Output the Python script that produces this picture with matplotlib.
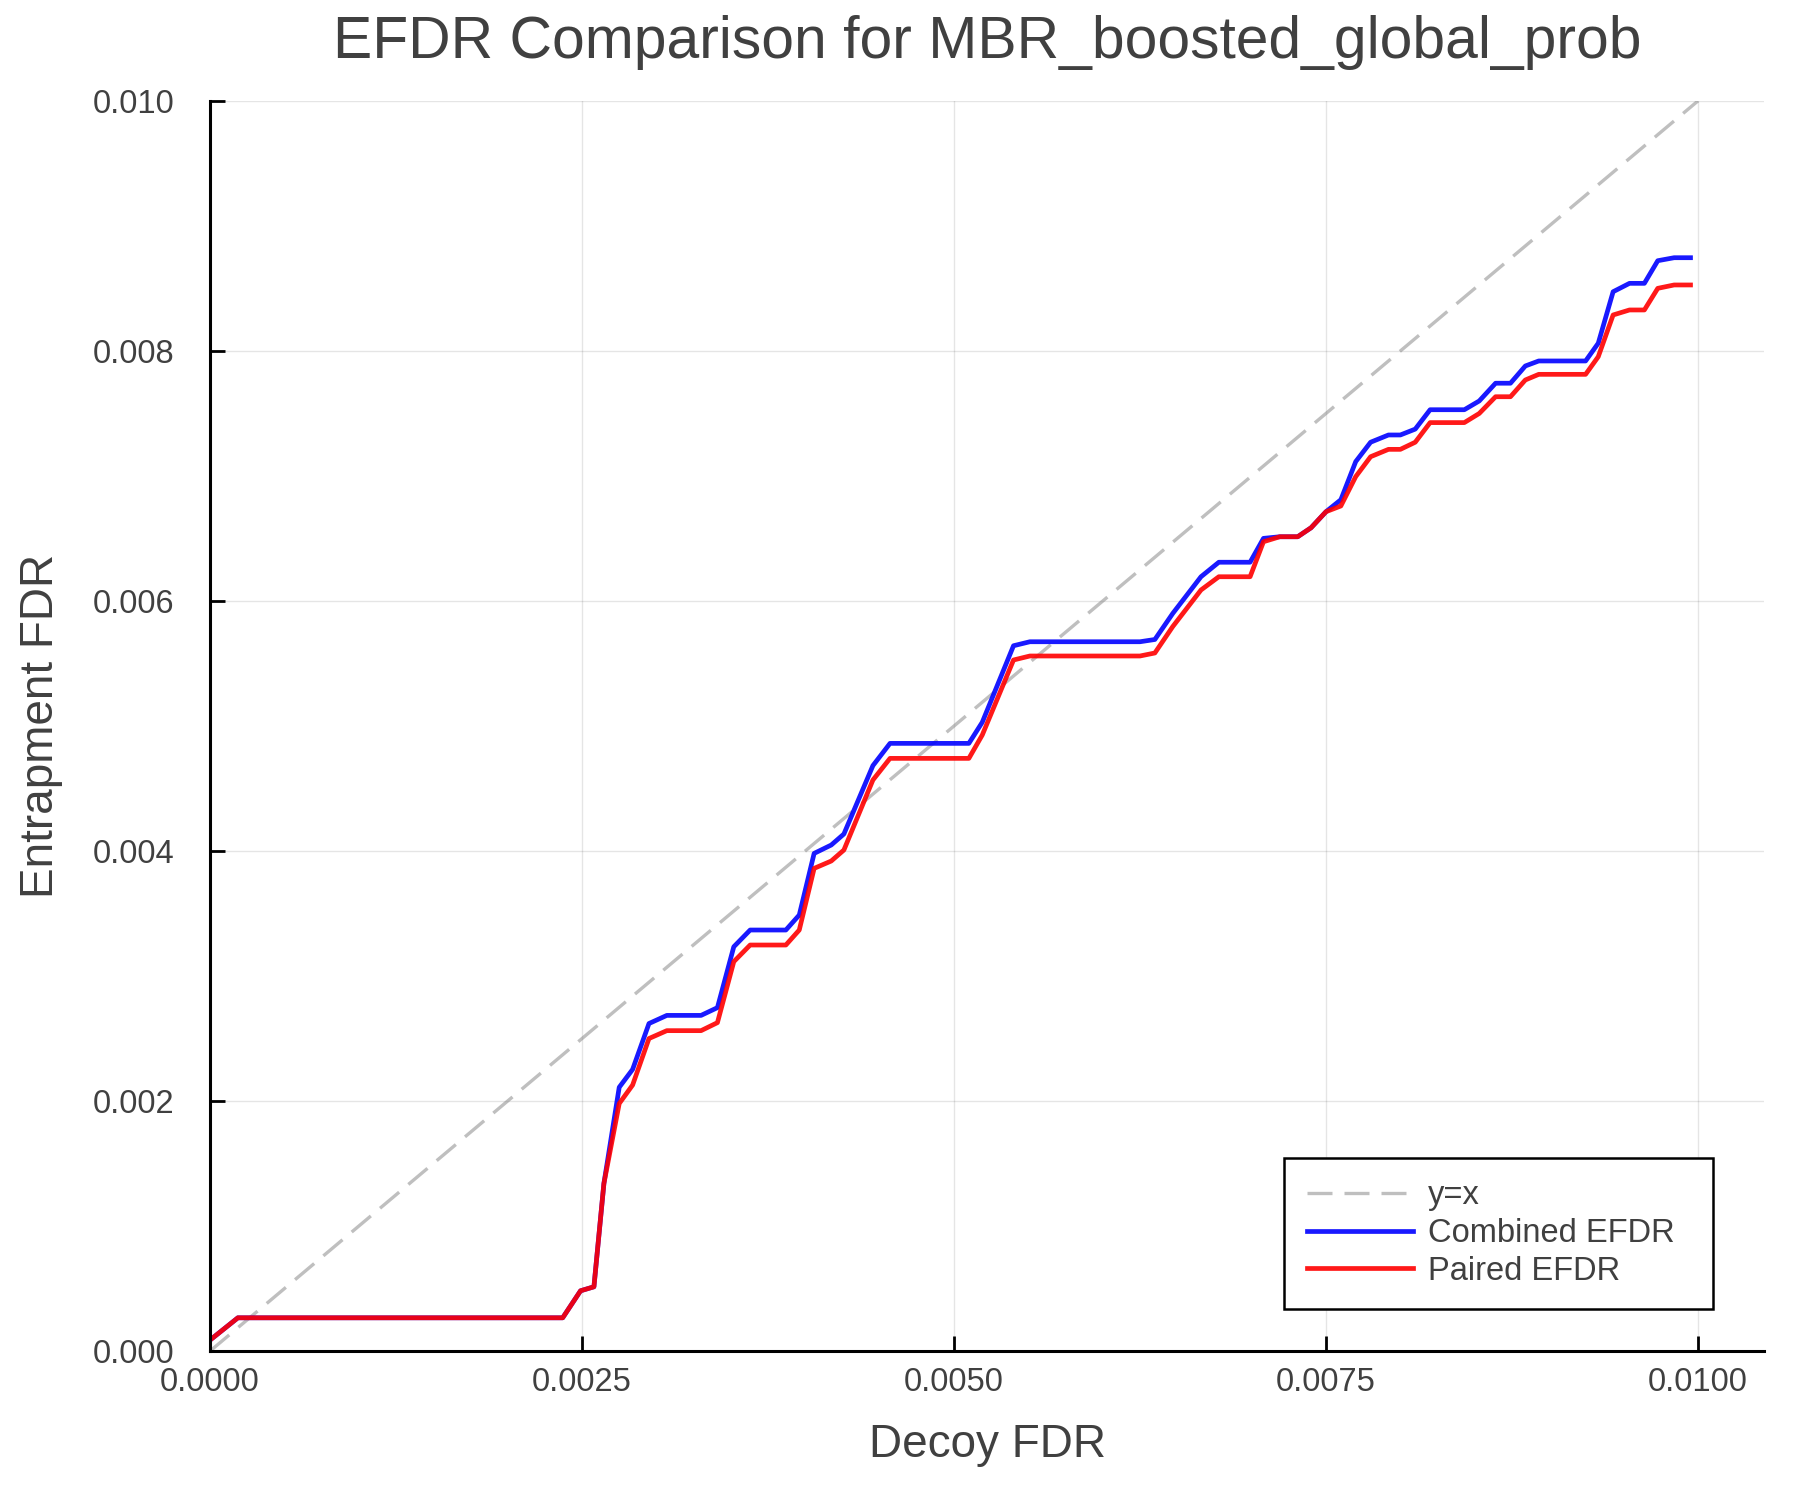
import matplotlib
matplotlib.use("Agg")
import matplotlib.pyplot as plt

# decoy FDR (x) and the two entrapment FDR curves
decoy_fdr = [0.0, 0.000187, 0.00237, 0.00249, 0.00258, 0.002647, 0.00275, 0.00284,
             0.00295, 0.00307, 0.0033, 0.00341, 0.00352, 0.00363, 0.00387, 0.00396,
             0.00406, 0.004175, 0.00426, 0.004455, 0.00457, 0.0051, 0.00519, 0.0054,
             0.00551, 0.00625, 0.00635, 0.00647, 0.00666, 0.00678, 0.00699, 0.00708,
             0.00719, 0.00731, 0.0074, 0.0075, 0.0076, 0.0077, 0.0078, 0.00792,
             0.008, 0.0081, 0.0082, 0.00843, 0.00853, 0.00864, 0.00874, 0.00884,
             0.00893, 0.009245, 0.00933, 0.00943, 0.00954, 0.00964, 0.00973, 0.00984,
             0.00995]
combined_efdr = [0.000088, 0.000266, 0.000266, 0.000482, 0.000514, 0.00134, 0.00211, 0.002253,
                 0.00262, 0.002685, 0.002685, 0.002747, 0.003234, 0.003368, 0.003368, 0.003488,
                 0.003981, 0.004048, 0.004136, 0.004683, 0.004861, 0.004861, 0.00503, 0.005642,
                 0.005674, 0.005674, 0.005692, 0.0059, 0.006194, 0.00631, 0.00631, 0.006501,
                 0.006514, 0.006514, 0.006586, 0.006714, 0.00681, 0.007115, 0.00727, 0.007328,
                 0.007328, 0.007375, 0.00753, 0.00753, 0.0076, 0.007742, 0.007742, 0.00788,
                 0.00792, 0.00792, 0.008062, 0.008474, 0.008541, 0.008541, 0.008722, 0.008746,
                 0.008746]
paired_efdr = [0.000088, 0.000266, 0.000266, 0.000482, 0.000514, 0.00134, 0.00198, 0.002128,
               0.0025, 0.002563, 0.002563, 0.002627, 0.003115, 0.003248, 0.003248, 0.003368,
               0.003861, 0.00392, 0.004008, 0.004568, 0.004741, 0.004741, 0.004928, 0.005528,
               0.00556, 0.00556, 0.005584, 0.005795, 0.006088, 0.006194, 0.006194, 0.006474,
               0.006514, 0.006514, 0.006586, 0.006714, 0.00676, 0.006995, 0.007154, 0.007213,
               0.007213, 0.00727, 0.007427, 0.007427, 0.0075, 0.007634, 0.007634, 0.007768,
               0.007813, 0.007813, 0.007954, 0.008288, 0.008328, 0.008328, 0.008501, 0.008528,
               0.008528]
diag = [0.0, 0.01]

x_ticks = [0.0, 0.0025, 0.005, 0.0075, 0.01]
x_tick_labels = ["0.0000", "0.0025", "0.0050", "0.0075", "0.0100"]
y_ticks = [0.0, 0.002, 0.004, 0.006, 0.008, 0.010]
y_tick_labels = ["0.000", "0.002", "0.004", "0.006", "0.008", "0.010"]

txt = "#404040"
plt.rcParams["font.family"] = ["Liberation Sans", "DejaVu Sans"]

fig = plt.figure(figsize=(18, 15), dpi=100)
ax = fig.add_axes([0.1167, 0.0993, 0.8633, 0.8334])

ax.plot(diag, diag, color="gray", alpha=0.5, lw=2.4, ls=(0, (7.5, 3.6)), label="y=x")
ax.plot(decoy_fdr, combined_efdr, color="blue", alpha=0.9, lw=3.4, label="Combined EFDR")
ax.plot(decoy_fdr, paired_efdr, color="red", alpha=0.9, lw=3.4, label="Paired EFDR")

ax.set_xlim(0, 0.010444)
ax.set_ylim(0, 0.010)
ax.set_xticks(x_ticks)
ax.set_xticklabels(x_tick_labels)
ax.set_yticks(y_ticks)
ax.set_yticklabels(y_tick_labels)
ax.tick_params(axis="both", direction="in", length=10.8, width=2.0, color="black",
               labelsize=23.5, labelcolor=txt)
ax.tick_params(axis="x", pad=11.5)
ax.tick_params(axis="y", pad=25.5)
ax.grid(True, color="black", alpha=0.1, lw=1.0)
ax.set_axisbelow(True)

for s in ["top", "right"]:
    ax.spines[s].set_visible(False)
for s in ["left", "bottom"]:
    ax.spines[s].set_linewidth(2.2)

ax.set_title("EFDR Comparison for MBR_boosted_global_prob", fontsize=42.3, color=txt, pad=31)
ax.set_xlabel("Decoy FDR", fontsize=33, color=txt, labelpad=18)
ax.set_ylabel("Entrapment FDR", fontsize=33, color=txt, labelpad=21.5)

leg = ax.legend(loc="lower left", bbox_to_anchor=(0.6911, 0.0336, 0.2761, 0.12), mode="expand",
                borderaxespad=0, fontsize=23.5, handlelength=3.27, handletextpad=0.45,
                labelspacing=0.2, borderpad=0.69, fancybox=False, framealpha=1,
                edgecolor="black")
leg.get_frame().set_linewidth(1.8)
for t in leg.get_texts():
    t.set_color(txt)

fig.savefig("out.png", dpi=100, facecolor="white")
